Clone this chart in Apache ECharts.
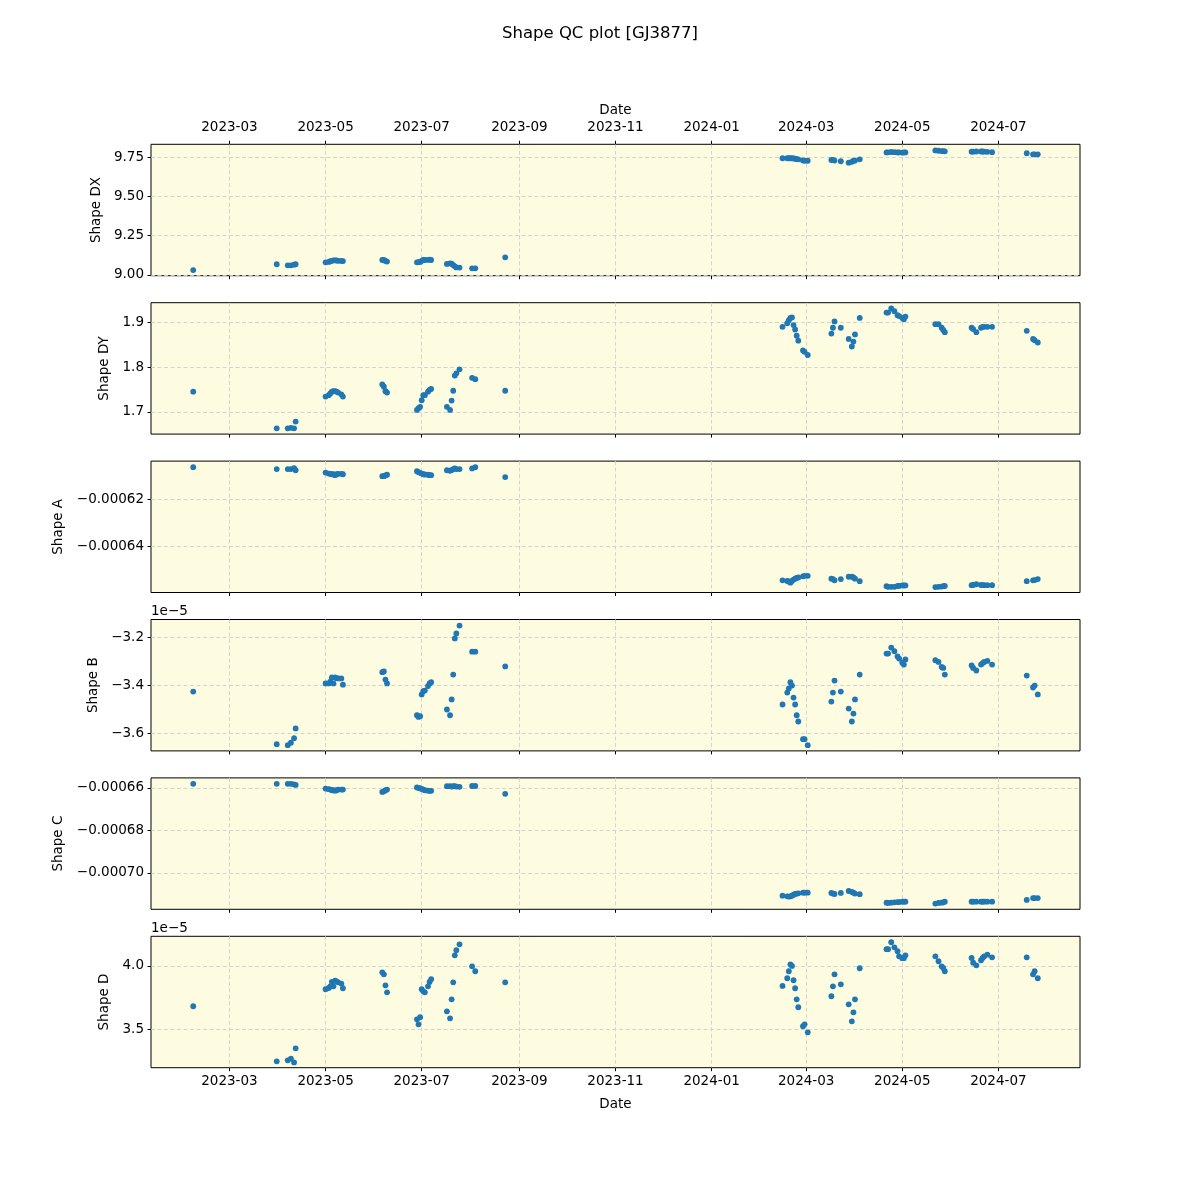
<!DOCTYPE html>
<html>
<head>
<meta charset="utf-8">
<script src="https://cdn.jsdelivr.net/npm/echarts@6/dist/echarts.min.js"></script>
<style>html,body{margin:0;padding:0;background:#fff}#c{width:1200px;height:1200px}</style>
</head>
<body>
<div id="c"></div>
<script>
// ---- data ----
const dates = [
 '2023-02-06','2023-03-31','2023-04-07','2023-04-09','2023-04-11','2023-04-12',
 '2023-05-01','2023-05-03','2023-05-04','2023-05-05','2023-05-06','2023-05-07','2023-05-08','2023-05-09','2023-05-11','2023-05-12',
 '2023-06-06','2023-06-07','2023-06-08','2023-06-09',
 '2023-06-28','2023-06-29','2023-06-30','2023-07-01','2023-07-02','2023-07-03','2023-07-05','2023-07-06','2023-07-07',
 '2023-07-17','2023-07-19','2023-07-20','2023-07-21','2023-07-22','2023-07-23','2023-07-25',
 '2023-08-02','2023-08-04','2023-08-23',
 '2024-02-15','2024-02-18','2024-02-19','2024-02-20','2024-02-21','2024-02-22','2024-02-23','2024-02-24','2024-02-25','2024-02-28','2024-02-29','2024-03-02',
 '2024-03-17','2024-03-18','2024-03-19','2024-03-23','2024-03-28','2024-03-30','2024-03-31','2024-04-01','2024-04-04',
 '2024-04-21','2024-04-22','2024-04-24','2024-04-26','2024-04-28','2024-04-29','2024-05-01','2024-05-02','2024-05-03',
 '2024-05-22','2024-05-24','2024-05-26','2024-05-27','2024-05-28',
 '2024-06-14','2024-06-15','2024-06-17','2024-06-20','2024-06-21','2024-06-22','2024-06-24','2024-06-27',
 '2024-07-19','2024-07-23','2024-07-24','2024-07-26'
];
const shapeDX = [
 9.031,9.068,9.061,9.061,9.065,9.068,
 9.080,9.083,9.087,9.090,9.093,9.093,9.092,9.090,9.089,9.088,
 9.095,9.095,9.089,9.085,
 9.080,9.082,9.083,9.090,9.095,9.095,9.096,9.097,9.095,
 9.070,9.073,9.072,9.063,9.055,9.048,9.047,
 9.042,9.042,9.112,
 9.744,9.744,9.744,9.744,9.744,9.743,9.741,9.739,9.737,9.730,9.728,9.728,
 9.733,9.733,9.729,9.725,9.716,9.721,9.728,9.729,9.737,
 9.781,9.782,9.784,9.783,9.781,9.781,9.780,9.781,9.781,
 9.794,9.792,9.790,9.789,9.788,
 9.786,9.786,9.787,9.787,9.787,9.786,9.785,9.783,
 9.776,9.769,9.769,9.769
];
const shapeDY = [
 1.745,1.663,1.663,1.664,1.663,1.678,
 1.734,1.737,1.741,1.745,1.746,1.746,1.745,1.743,1.739,1.734,
 1.761,1.756,1.746,1.743,
 1.704,1.708,1.711,1.726,1.737,1.737,1.745,1.749,1.751,
 1.711,1.704,1.725,1.747,1.781,1.786,1.795,
 1.776,1.773,1.747,
 1.890,1.898,1.905,1.910,1.911,1.894,1.884,1.870,1.859,1.837,1.834,1.827,
 1.875,1.888,1.902,1.888,1.863,1.846,1.857,1.873,1.910,
 1.922,1.922,1.931,1.925,1.916,1.914,1.910,1.907,1.913,
 1.896,1.896,1.888,1.883,1.878,
 1.888,1.885,1.878,1.888,1.890,1.890,1.890,1.890,
 1.881,1.863,1.860,1.855
];
const shapeA = [
 -0.0006064,-0.0006072,-0.0006072,-0.0006072,-0.0006068,-0.0006077,
 -0.0006087,-0.0006091,-0.0006092,-0.0006094,-0.0006094,-0.0006098,-0.0006094,-0.0006092,-0.0006092,-0.0006094,
 -0.0006102,-0.0006102,-0.0006099,-0.0006096,
 -0.0006081,-0.0006085,-0.0006088,-0.0006091,-0.0006094,-0.0006095,-0.0006096,-0.0006098,-0.0006098,
 -0.0006077,-0.0006079,-0.0006076,-0.0006072,-0.0006069,-0.0006072,-0.0006072,
 -0.0006069,-0.0006064,-0.0006106,
 -0.0006545,-0.0006548,-0.0006550,-0.0006555,-0.0006548,-0.0006542,-0.0006538,-0.0006535,-0.0006533,-0.0006528,-0.0006526,-0.0006526,
 -0.0006538,-0.0006540,-0.0006545,-0.0006540,-0.0006530,-0.0006530,-0.0006533,-0.0006538,-0.0006549,
 -0.0006570,-0.0006573,-0.0006573,-0.0006573,-0.0006569,-0.0006569,-0.0006567,-0.0006567,-0.0006567,
 -0.0006574,-0.0006573,-0.0006572,-0.0006570,-0.0006569,
 -0.0006566,-0.0006565,-0.0006562,-0.0006565,-0.0006566,-0.0006566,-0.0006566,-0.0006566,
 -0.0006549,-0.0006545,-0.0006544,-0.0006540
];
const shapeB = [
 -3.426e-5,-3.646e-5,-3.650e-5,-3.640e-5,-3.621e-5,-3.580e-5,
 -3.392e-5,-3.392e-5,-3.385e-5,-3.367e-5,-3.392e-5,-3.367e-5,-3.370e-5,-3.371e-5,-3.371e-5,-3.397e-5,
 -3.345e-5,-3.342e-5,-3.376e-5,-3.392e-5,
 -3.525e-5,-3.532e-5,-3.529e-5,-3.438e-5,-3.424e-5,-3.422e-5,-3.403e-5,-3.392e-5,-3.387e-5,
 -3.501e-5,-3.525e-5,-3.459e-5,-3.355e-5,-3.204e-5,-3.183e-5,-3.150e-5,
 -3.259e-5,-3.259e-5,-3.321e-5,
 -3.480e-5,-3.430e-5,-3.413e-5,-3.387e-5,-3.401e-5,-3.451e-5,-3.480e-5,-3.525e-5,-3.551e-5,-3.625e-5,-3.625e-5,-3.650e-5,
 -3.468e-5,-3.430e-5,-3.380e-5,-3.426e-5,-3.497e-5,-3.551e-5,-3.518e-5,-3.459e-5,-3.355e-5,
 -3.267e-5,-3.267e-5,-3.242e-5,-3.257e-5,-3.279e-5,-3.288e-5,-3.305e-5,-3.313e-5,-3.292e-5,
 -3.295e-5,-3.302e-5,-3.323e-5,-3.327e-5,-3.355e-5,
 -3.317e-5,-3.327e-5,-3.338e-5,-3.313e-5,-3.307e-5,-3.302e-5,-3.298e-5,-3.313e-5,
 -3.359e-5,-3.409e-5,-3.401e-5,-3.438e-5
];
const shapeC = [
 -0.0006581,-0.0006581,-0.0006581,-0.0006581,-0.0006583,-0.0006586,
 -0.0006603,-0.0006606,-0.0006608,-0.0006611,-0.0006611,-0.0006613,-0.0006611,-0.0006608,-0.0006608,-0.0006608,
 -0.0006619,-0.0006616,-0.0006611,-0.0006608,
 -0.0006598,-0.0006600,-0.0006602,-0.0006605,-0.0006608,-0.0006611,-0.0006613,-0.0006614,-0.0006614,
 -0.0006592,-0.0006592,-0.0006594,-0.0006592,-0.0006592,-0.0006594,-0.0006595,
 -0.0006591,-0.0006591,-0.0006628,
 -0.0007107,-0.0007110,-0.0007111,-0.0007110,-0.0007107,-0.0007102,-0.0007099,-0.0007097,-0.0007096,-0.0007093,-0.0007093,-0.0007093,
 -0.0007094,-0.0007097,-0.0007099,-0.0007094,-0.0007085,-0.0007089,-0.0007093,-0.0007097,-0.0007100,
 -0.0007140,-0.0007141,-0.0007140,-0.0007138,-0.0007137,-0.0007137,-0.0007135,-0.0007135,-0.0007135,
 -0.0007144,-0.0007141,-0.0007140,-0.0007138,-0.0007135,
 -0.0007135,-0.0007135,-0.0007135,-0.0007135,-0.0007135,-0.0007135,-0.0007135,-0.0007135,
 -0.0007127,-0.0007118,-0.0007118,-0.0007118
];
const shapeD = [
 3.682e-5,3.247e-5,3.255e-5,3.268e-5,3.239e-5,3.350e-5,
 3.816e-5,3.826e-5,3.839e-5,3.874e-5,3.839e-5,3.884e-5,3.879e-5,3.871e-5,3.861e-5,3.824e-5,
 3.950e-5,3.934e-5,3.847e-5,3.792e-5,
 3.579e-5,3.539e-5,3.595e-5,3.816e-5,3.800e-5,3.792e-5,3.839e-5,3.874e-5,3.895e-5,
 3.642e-5,3.587e-5,3.737e-5,3.871e-5,4.084e-5,4.124e-5,4.171e-5,
 3.997e-5,3.958e-5,3.871e-5,
 3.842e-5,3.903e-5,3.958e-5,4.013e-5,4.000e-5,3.887e-5,3.824e-5,3.737e-5,3.674e-5,3.524e-5,3.539e-5,3.476e-5,
 3.761e-5,3.839e-5,3.934e-5,3.855e-5,3.697e-5,3.563e-5,3.634e-5,3.737e-5,3.982e-5,
 4.132e-5,4.132e-5,4.187e-5,4.147e-5,4.116e-5,4.076e-5,4.061e-5,4.061e-5,4.084e-5,
 4.076e-5,4.037e-5,3.997e-5,3.984e-5,3.958e-5,
 4.063e-5,4.026e-5,4.005e-5,4.045e-5,4.063e-5,4.076e-5,4.089e-5,4.068e-5,
 4.068e-5,3.934e-5,3.958e-5,3.903e-5
];
const xTickLabels = ['2023-03','2023-05','2023-07','2023-09','2023-11','2024-01','2024-03','2024-05','2024-07'];
const panelNames = ['Shape DX','Shape DY','Shape A','Shape B','Shape C','Shape D'];
const yTickValues = [
 [9.00, 9.25, 9.50, 9.75],
 [1.7, 1.8, 1.9],
 [-0.00064, -0.00062],
 [-3.6e-5, -3.4e-5, -3.2e-5],
 [-0.00070, -0.00068, -0.00066],
 [3.5e-5, 4.0e-5]
];
const yTickLabels = [
 ['9.00','9.25','9.50','9.75'],
 ['1.7','1.8','1.9'],
 ['\u22120.00064','\u22120.00062'],
 ['\u22123.6','\u22123.4','\u22123.2'],
 ['\u22120.00070','\u22120.00068','\u22120.00066'],
 ['3.5','4.0']
];
const yRanges = [
 [8.995, 9.833],
 [1.650, 1.944],
 [-0.0006597, -0.0006038],
 [-3.674e-5, -3.1247e-5],
 [-0.0007171, -0.0006553],
 [3.197e-5, 4.234e-5]
];
const offsetTexts = ['', '', '', '1e\u22125', '', '1e\u22125'];

// ---- build ----
function ts(s) { const p = s.split('-').map(Number); return Date.UTC(p[0], p[1]-1, p[2] || 1); }
const xs = dates.map(ts);
const span = xs[xs.length-1] - xs[0];
const xMin = xs[0] - 0.05*span, xMax = xs[xs.length-1] + 0.05*span;
const xTickValues = xTickLabels.map(ts);
function xFmt(v) {
  const i = xTickValues.findIndex(t => Math.abs(t - v) < 3600e3);
  return i >= 0 ? xTickLabels[i] : '';
}
const seriesValues = [shapeDX, shapeDY, shapeA, shapeB, shapeC, shapeD];
const nameGaps = [48, 40, 86, 51, 86, 40];
const FONT = 'DejaVu Sans';
const gridTop0 = 144.3, step = 158.4, gridH = 131.4;
const grids = [], xAxes = [], yAxes = [], series = [], graphics = [];
const dashed = {show: true, lineStyle: {color: '#cfcfcf', type: [4, 2.5], width: 0.9}};
for (let i = 0; i < 6; i++) {
  grids.push({left: 151, width: 929, top: gridTop0 + i*step, height: gridH,
    show: true, backgroundColor: '#fdfce0', borderColor: '#000', borderWidth: 1});
  const last = i === 5;
  xAxes.push({type: 'value', gridIndex: i, position: 'bottom', min: xMin, max: xMax,
    axisLine: {show: false},
    axisTick: {show: true, length: 3.5, customValues: xTickValues, lineStyle: {color: '#000'}},
    axisLabel: {show: last, customValues: xTickValues, formatter: xFmt, color: '#000', fontFamily: FONT, fontSize: 13.5, margin: 7},
    splitLine: dashed,
    name: last ? 'Date' : '', nameLocation: 'middle', nameGap: 30,
    nameTextStyle: {color: '#000', fontFamily: FONT, fontSize: 13.5}});
  const tv = yTickValues[i], tl = yTickLabels[i];
  yAxes.push({type: 'value', gridIndex: i, min: yRanges[i][0], max: yRanges[i][1],
    axisLine: {show: false},
    axisTick: {show: true, length: 3.5, customValues: tv, lineStyle: {color: '#000'}},
    axisLabel: {customValues: tv, color: '#000', fontFamily: FONT, fontSize: 13.5, margin: 7,
      formatter: function(v) {
        let bi = 0, bd = Infinity;
        tv.forEach((t, k) => { const d = Math.abs(t - v); if (d < bd) { bd = d; bi = k; } });
        return tl[bi];
      }},
    splitLine: dashed,
    name: panelNames[i], nameLocation: 'middle', nameGap: nameGaps[i], nameRotate: 90,
    nameTextStyle: {color: '#000', fontFamily: FONT, fontSize: 13.5}});
  series.push({type: 'scatter', xAxisIndex: i, yAxisIndex: i, symbol: 'circle', symbolSize: 5.8,
    itemStyle: {color: '#1f77b4', opacity: 1}, silent: true,
    data: xs.map((x, k) => [x, seriesValues[i][k]])});
  if (offsetTexts[i]) {
    graphics.push({type: 'text', left: 151, top: gridTop0 + i*step - 15,
      style: {text: offsetTexts[i], fill: '#000', font: '13.5px "DejaVu Sans"'}});
  }
}
// top date axis on the first panel
xAxes.push({type: 'value', gridIndex: 0, position: 'top', min: xMin, max: xMax,
  axisLine: {show: false},
  axisTick: {show: true, length: 3.5, customValues: xTickValues, lineStyle: {color: '#000'}},
  axisLabel: {show: true, customValues: xTickValues, formatter: xFmt, color: '#000', fontFamily: FONT, fontSize: 13.5, margin: 10},
  splitLine: {show: false},
  name: 'Date', nameLocation: 'middle', nameGap: 27,
  nameTextStyle: {color: '#000', fontFamily: FONT, fontSize: 13.5}});

const chart = echarts.init(document.getElementById('c'), null, {renderer: 'canvas'});
chart.setOption({
  animation: false,
  backgroundColor: '#fff',
  title: {text: 'Shape QC plot [GJ3877]', left: 'center', top: 20,
    textStyle: {color: '#000', fontFamily: FONT, fontSize: 16.5, fontWeight: 'normal'}},
  grid: grids, xAxis: xAxes, yAxis: yAxes, series: series, graphic: graphics
});
</script>
</body>
</html>
